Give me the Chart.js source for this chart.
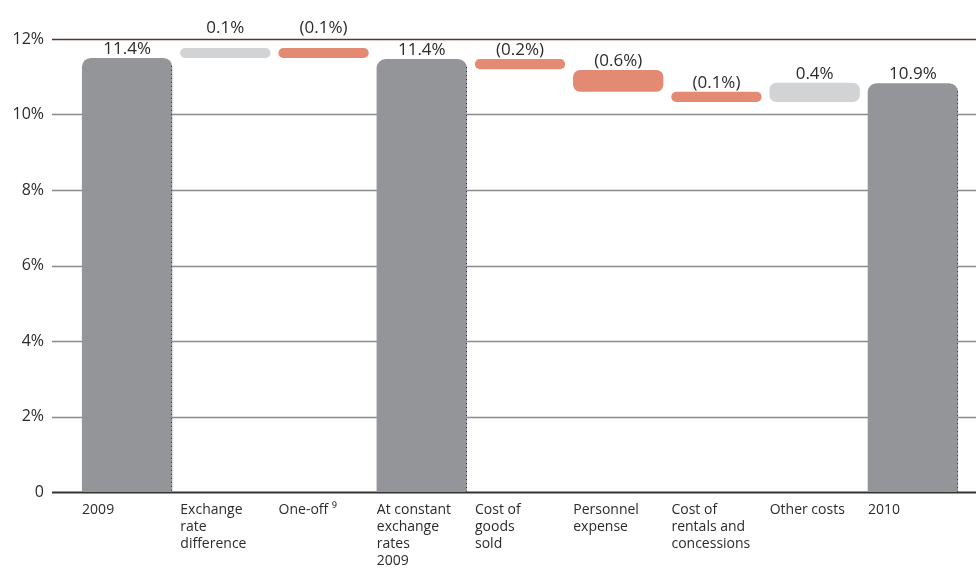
<!DOCTYPE html>
<html>
<head>
<meta charset="utf-8">
<script src="https://cdn.jsdelivr.net/npm/chart.js@4.4.1/dist/chart.umd.min.js"></script>
<style>
  html, body { margin: 0; padding: 0; background: #fff; }
  #wrap { width: 976px; height: 576px; }
</style>
</head>
<body>
<div id="wrap"><canvas id="waterfall" width="976" height="576"></canvas></div>
<script>
// categories (multi-line labels)
const categories = [
  ['2009'],
  ['Exchange', 'rate', 'difference'],
  ['One-off \u2079'],
  ['At constant', 'exchange', 'rates', '2009'],
  ['Cost of', 'goods', 'sold'],
  ['Personnel', 'expense'],
  ['Cost of', 'rentals and', 'concessions'],
  ['Other costs'],
  ['2010']
];
// bar bottoms and tops (%), as drawn in the picture
const barStart = [0, 11.5, 11.5, 0, 11.2, 10.6, 10.33, 10.33, 0];
const barEnd = [11.5, 11.76, 11.76, 11.47, 11.47, 11.18, 10.6, 10.84, 10.83];
const valueLabels = ['11.4%', '0.1%', '(0.1%)', '11.4%', '(0.2%)', '(0.6%)', '(0.1%)', '0.4%', '10.9%'];
const barKind = ['total', 'up', 'down', 'total', 'down', 'down', 'down', 'up', 'total'];
const yTicks = [0, 2, 4, 6, 8, 10, 12];

const kindColor = { total: '#939598', up: '#d1d3d4', down: '#e48a72' };
const FONT = '"Open Sans", "Noto Sans", sans-serif';

// horizontal rules across the whole width, behind the bars
const gridRules = {
  id: 'gridRules',
  beforeDatasetsDraw(chart) {
    const ctx = chart.ctx;
    const y = chart.scales.y;
    ctx.save();
    yTicks.forEach(v => {
      const py = Math.round(y.getPixelForValue(v)) + 0.5;
      ctx.beginPath();
      if (v === 0) { ctx.strokeStyle = '#333333'; ctx.lineWidth = 2; }
      else if (v === 12) { ctx.strokeStyle = '#5a3232'; ctx.lineWidth = 1.5; }
      else { ctx.strokeStyle = '#8c8c8c'; ctx.lineWidth = 1.5; }
      ctx.moveTo(52, py);
      ctx.lineTo(976, py);
      ctx.stroke();
    });
    ctx.restore();
  }
};

// value labels above bars + dotted edge on the total bars
const barLabels = {
  id: 'barLabels',
  afterDatasetsDraw(chart) {
    const ctx = chart.ctx;
    const area = chart.chartArea;
    const meta = chart.getDatasetMeta(0);
    ctx.save();
    meta.data.forEach((el, i) => {
      const top = Math.min(el.y, el.base);
      if (barKind[i] === 'total') {
        const xr = Math.round(el.x + el.width / 2) - 0.5;
        ctx.beginPath();
        ctx.setLineDash([1, 3]);
        ctx.strokeStyle = '#333';
        ctx.lineWidth = 1;
        ctx.moveTo(xr, top + 8);
        ctx.lineTo(xr, el.base);
        ctx.stroke();
        ctx.setLineDash([]);
      }
      // keep labels off the 12% rule
      let bottom = top - 4;
      if (bottom - 13 < area.top && bottom > area.top - 2) bottom = area.top - 6;
      ctx.font = '17px ' + FONT;
      ctx.fillStyle = '#2b2b2b';
      ctx.textAlign = 'center';
      ctx.textBaseline = 'alphabetic';
      ctx.fillText(valueLabels[i], el.x, bottom);
    });
    ctx.restore();
  }
};

const ctxW = document.getElementById('waterfall').getContext('2d');
const waterfallChart = new Chart(ctxW, {
  type: 'bar',
  data: {
    labels: categories,
    datasets: [{
      data: barStart.map((s, i) => [s, barEnd[i]]),
      backgroundColor: barKind.map(k => kindColor[k]),
      borderWidth: 0,
      borderSkipped: false,
      borderRadius: c => {
        const k = barKind[c.dataIndex];
        if (k === 'total') return { topLeft: 9, topRight: 9, bottomLeft: 0, bottomRight: 0 };
        const h = Math.abs(barEnd[c.dataIndex] - barStart[c.dataIndex]);
        return h > 0.4 ? 7 : 6;
      },
      barPercentage: 0.92,
      categoryPercentage: 1
    }]
  },
  options: {
    responsive: false,
    animation: false,
    layout: { padding: { top: 39, right: 14, bottom: 0, left: 0 } },
    plugins: {
      legend: { display: false },
      tooltip: { enabled: false }
    },
    scales: {
      x: {
        grid: { display: false },
        border: { display: false },
        afterFit: s => { s.height = 84; },
        ticks: {
          align: 'start',
          labelOffset: -45,
          padding: 2,
          maxRotation: 0,
          autoSkip: false,
          color: '#2b2b2b',
          font: { family: FONT, size: 14, lineHeight: 1.2 }
        }
      },
      y: {
        min: 0,
        max: 12,
        afterFit: s => { s.width = 78; s.paddingTop = 0; s.paddingBottom = 0; },
        afterBuildTicks: s => { s.ticks = yTicks.map(v => ({ value: v })); },
        grid: { display: false, drawTicks: false },
        border: { display: false },
        ticks: {
          padding: 34,
          color: '#2b2b2b',
          font: { family: FONT, size: 16 },
          callback: v => v === 0 ? '0' : v + '%'
        }
      }
    }
  },
  plugins: [gridRules, barLabels]
});
</script>
</body>
</html>
